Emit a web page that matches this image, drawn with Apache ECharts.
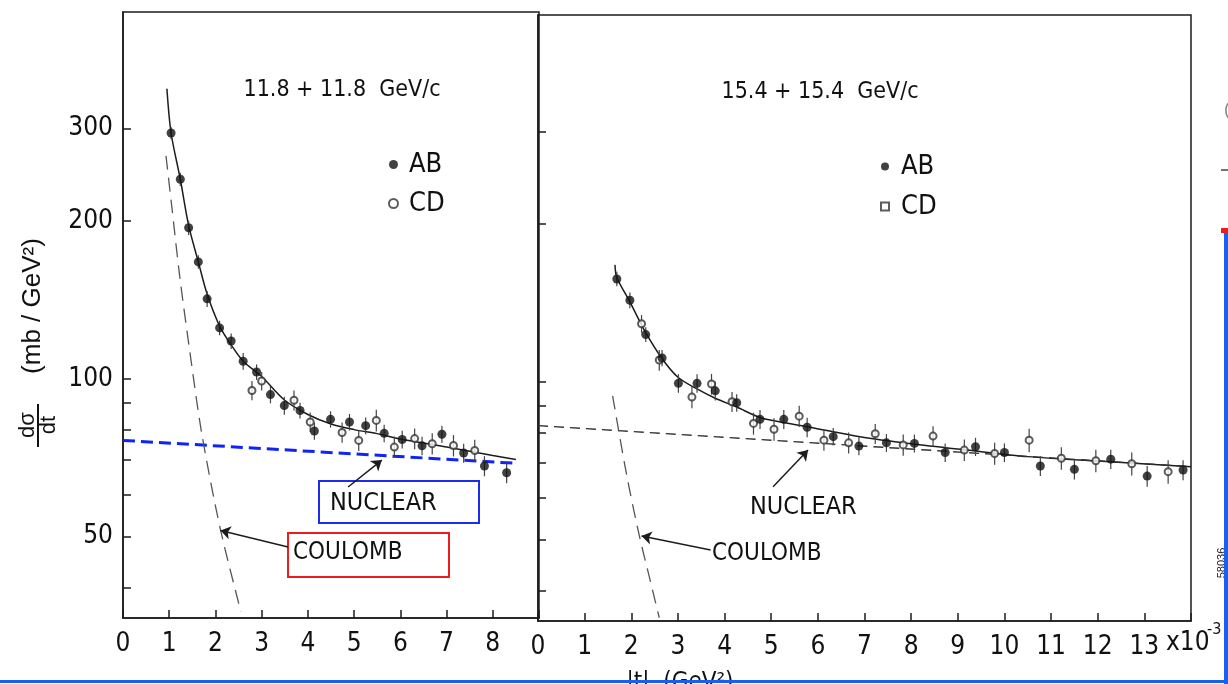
<!DOCTYPE html>
<html>
<head>
<meta charset="utf-8">
<script src="https://cdn.jsdelivr.net/npm/echarts@6.0.0/dist/echarts.min.js"></script>
<style>
html, body { margin: 0; background: #fff; }
#chart { width: 1228px; height: 684px; }
</style>
</head>
<body>
<div id="chart"></div>
<script>
// --- data (|t| in 1e-3 GeV^2, dsigma/dt in mb/GeV^2) ---
// left panel, 11.8 + 11.8 GeV/c
const tL_AB = [1.04, 1.24, 1.42, 1.63, 1.82, 2.09, 2.34, 2.60, 2.89, 3.19, 3.49, 3.83, 4.14, 4.49, 4.90, 5.25, 5.65, 6.04, 6.47, 6.90, 7.37, 7.82, 8.30];
const vL_AB = [294, 240, 194, 167, 142, 125, 118, 108, 103, 93.3, 88.9, 87.0, 79.5, 83.7, 82.7, 81.4, 78.7, 76.6, 74.5, 78.4, 72.2, 68.2, 66.2];
const eL_AB = [8, 7, 6, 5, 5, 4, 4, 4, 3.5, 3.5, 3.5, 3, 3, 3, 3, 3, 3, 3, 3, 3, 3, 3, 3];
const tL_CD = [2.79, 3.00, 3.70, 4.05, 4.74, 5.10, 5.48, 5.87, 6.31, 6.69, 7.15, 7.61];
const vL_CD = [95, 99, 91, 82.7, 79, 76.3, 83.3, 74.1, 76.9, 75.2, 74.6, 73.0];
const eL_CD = [4, 4, 4, 3.5, 3.5, 3.5, 4, 3.5, 3.5, 3.5, 3.5, 3.5];
const fitL_t = [0.95, 1.04, 1.24, 1.42, 1.63, 1.82, 2.09, 2.34, 2.60, 3.00, 3.50, 4.00, 4.50, 5.00, 5.50, 6.00, 7.00, 8.00, 8.50];
const fitL_v = [357, 294, 240, 196, 167, 145, 126, 116, 108, 101, 91, 85.5, 82, 80, 78.6, 76.8, 74.1, 71.4, 70.2];
const nucL_t = [0, 8.5];
const nucL_v = [76.3, 69.0];
const coulL_t = [0.93, 1.05, 1.23, 1.45, 1.70, 2.10, 2.55];
const coulL_v = [266, 215, 156, 112, 79, 52, 36];

// right panel, 15.4 + 15.4 GeV/c
const tR_AB = [1.69, 1.97, 2.31, 2.66, 3.01, 3.41, 3.80, 4.26, 4.76, 5.27, 5.77, 6.33, 6.88, 7.47, 8.07, 8.73, 9.38, 10.00, 10.77, 11.50, 12.28, 13.06, 13.83];
const vR_AB = [157, 143, 123, 111, 99.3, 99.3, 96.1, 91.2, 84.8, 84.8, 81.9, 78.6, 75.4, 76.5, 76.3, 73.3, 75.2, 73.3, 69.1, 68.1, 71.2, 66.1, 67.9];
const eR_AB = [5, 5, 4, 4, 4, 4, 4, 3.5, 3.5, 3.5, 3.5, 3, 3, 3, 3, 3, 3, 3, 3, 3, 3, 3, 3];
const tR_CD = [2.22, 2.60, 3.30, 3.72, 4.16, 4.62, 5.06, 5.60, 6.13, 6.66, 7.23, 7.83, 8.47, 9.14, 9.79, 10.53, 11.22, 11.96, 12.73, 13.51];
const vR_CD = [129, 110, 93.5, 99, 91.6, 83.3, 81.2, 86, 77.4, 76.5, 79.6, 75.8, 78.8, 74.1, 73.0, 77.4, 71.5, 70.7, 69.8, 67.4];
const eR_CD = [5, 5, 4.5, 4.5, 4, 4, 4, 4, 3.5, 3.5, 3.5, 3.5, 3.5, 3.5, 3.5, 4, 3.5, 3.5, 3.5, 3.5];
const fitR_t = [1.65, 1.69, 1.97, 2.31, 2.65, 3.00, 3.40, 3.80, 4.26, 4.76, 5.30, 5.80, 6.90, 8.00, 9.20, 10.50, 12.00, 14.00];
const fitR_v = [167, 158, 142, 124, 111, 102, 97, 93, 89.5, 85.5, 83.5, 82, 78.6, 76.2, 74.1, 72, 70.6, 68.9];
const nucR_t = [0, 14];
const nucR_v = [82.5, 68.9];
const coulR_t = [1.60, 1.90, 2.17, 2.40, 2.60];
const coulR_v = [94, 66.5, 51, 42, 35.5];

// axis ticks
const yTickVals = [40, 50, 60, 70, 80, 90, 100, 200, 300];
const yLabelVals = [50, 100, 200, 300];
const yMin = 35, yMax = 500;

const lg = Math.log10;
const NARROW = "'Liberation Sans Narrow', 'DejaVu Sans Condensed', 'Liberation Sans', sans-serif";
const INK = '#1c1c1c';

function pts(ts, vs) {
  return ts.map((t, i) => [t, lg(vs[i])]);
}

// vertical error bars
function errSeries(ts, vs, es, idx) {
  return {
    type: 'custom', xAxisIndex: idx, yAxisIndex: idx, silent: true, z: 3,
    data: ts.map((t, i) => [t, lg(vs[i] + es[i]), lg(vs[i] - es[i])]),
    renderItem: function (params, api) {
      const a = api.coord([api.value(0), api.value(1)]);
      const b = api.coord([api.value(0), api.value(2)]);
      return {
        type: 'line',
        shape: { x1: a[0], y1: a[1], x2: b[0], y2: b[1] },
        style: { stroke: '#444', lineWidth: 1.2 }
      };
    }
  };
}

function xAx(idx, max) {
  return {
    type: 'value', gridIndex: idx, min: 0, max: max, interval: 1,
    axisLine: { show: true, lineStyle: { color: INK, width: 1.6 } },
    axisTick: { show: true, inside: true, length: 8, lineStyle: { color: INK, width: 1.5 } },
    axisLabel: {
      fontSize: 26, fontFamily: NARROW, color: '#111', margin: 13,
      formatter: v => (v === max ? '' : String(v))
    },
    splitLine: { show: false }
  };
}

function yAx(idx, showLabel) {
  return {
    type: 'value', gridIndex: idx, min: lg(yMin), max: lg(yMax),
    axisLine: { show: true, lineStyle: { color: INK, width: 1.6 } },
    axisTick: { show: true, inside: true, length: 8, customValues: yTickVals.map(lg), lineStyle: { color: INK, width: 1.5 } },
    axisLabel: {
      show: showLabel, customValues: yLabelVals.map(lg),
      formatter: v => String(Math.round(Math.pow(10, v))),
      fontSize: 26, fontFamily: NARROW, color: '#111', margin: 10
    },
    splitLine: { show: false }
  };
}

function dataSeries(idx, tAB, vAB, tCD, vCD) {
  return [
    {
      type: 'scatter', name: 'CD', xAxisIndex: idx, yAxisIndex: idx, z: 4,
      data: pts(tCD, vCD), symbol: 'emptyCircle', symbolSize: 7,
      itemStyle: { color: '#333', borderWidth: 1.3 }
    },
    {
      type: 'scatter', name: 'AB', xAxisIndex: idx, yAxisIndex: idx, z: 5,
      data: pts(tAB, vAB), symbol: 'circle', symbolSize: 9,
      itemStyle: { color: '#111' }
    }
  ];
}

function arrowLine(pairs) {
  return {
    silent: true, symbol: ['none', 'arrow'], symbolSize: 10,
    lineStyle: { color: INK, type: 'solid', width: 1.5 },
    label: { show: false }, emphasis: { disabled: true },
    data: pairs.map(p => [{ coord: [p[0], lg(p[1])] }, { coord: [p[2], lg(p[3])] }])
  };
}

const chart = echarts.init(document.getElementById('chart'));

const option = {
  animation: false,
  backgroundColor: '#fff',
  grid: [
    { left: 123, right: 689, top: 12, bottom: 66, show: true, borderColor: INK, borderWidth: 1.5 },
    { left: 538, right: 37, top: 15, bottom: 63, show: true, borderColor: INK, borderWidth: 1.5 }
  ],
  xAxis: [xAx(0, 9), xAx(1, 14)],
  yAxis: [yAx(0, true), yAx(1, false)],
  legend: [
    {
      left: 383, top: 146, orient: 'vertical', itemWidth: 9, itemHeight: 9, itemGap: 12,
      selectedMode: false,
      data: [{ name: 'AB', icon: 'circle' }, { name: 'CD', icon: 'emptyCircle' }],
      textStyle: { fontSize: 27, fontFamily: NARROW, color: '#111', padding: [0, 0, 0, 6] }
    },
    {
      left: 875, top: 148, orient: 'vertical', itemWidth: 8, itemHeight: 8, itemGap: 13,
      selectedMode: false,
      data: [{ name: 'AB', icon: 'circle' }, { name: 'CD', icon: 'emptyRect' }],
      textStyle: { fontSize: 27, fontFamily: NARROW, color: '#111', padding: [0, 0, 0, 7] }
    }
  ],
  series: [
    // left panel
    {
      type: 'line', name: 'fitL', xAxisIndex: 0, yAxisIndex: 0, data: pts(fitL_t, fitL_v),
      smooth: 0.3, symbol: 'none', lineStyle: { color: INK, width: 1.5 }, z: 2
    },
    {
      type: 'line', name: 'nucL', xAxisIndex: 0, yAxisIndex: 0, data: pts(nucL_t, nucL_v),
      symbol: 'none', lineStyle: { color: '#0f24f5', width: 3, type: [12, 6] }, z: 2,
      markLine: arrowLine([[4.87, 62.2, 5.6, 70.0], [3.57, 47.8, 2.11, 51.4]])
    },
    {
      type: 'line', name: 'coulL', xAxisIndex: 0, yAxisIndex: 0, data: pts(coulL_t, coulL_v),
      smooth: 0.3, symbol: 'none', lineStyle: { color: '#555', width: 1.3, type: [14, 8] }, z: 2
    },
    errSeries(tL_CD, vL_CD, eL_CD, 0),
    errSeries(tL_AB, vL_AB, eL_AB, 0),
    ...dataSeries(0, tL_AB, vL_AB, tL_CD, vL_CD),
    // right panel
    {
      type: 'line', name: 'fitR', xAxisIndex: 1, yAxisIndex: 1, data: pts(fitR_t, fitR_v),
      smooth: 0.3, symbol: 'none', lineStyle: { color: INK, width: 1.5 }, z: 2
    },
    {
      type: 'line', name: 'nucR', xAxisIndex: 1, yAxisIndex: 1, data: pts(nucR_t, nucR_v),
      symbol: 'none', lineStyle: { color: '#333', width: 1.4, type: [10, 6] }, z: 2,
      markLine: arrowLine([[5.04, 63.1, 5.79, 74.1], [3.70, 47.8, 2.22, 50.8]])
    },
    {
      type: 'line', name: 'coulR', xAxisIndex: 1, yAxisIndex: 1, data: pts(coulR_t, coulR_v),
      smooth: 0.3, symbol: 'none', lineStyle: { color: '#555', width: 1.3, type: [14, 8] }, z: 2
    },
    errSeries(tR_CD, vR_CD, eR_CD, 1),
    errSeries(tR_AB, vR_AB, eR_AB, 1),
    ...dataSeries(1, tR_AB, vR_AB, tR_CD, vR_CD)
  ],
  graphic: [
    // panel titles
    { type: 'text', x: 342, y: 90, style: { text: '11.8 + 11.8  GeV/c', font: '23px ' + NARROW, fill: '#111', align: 'center', verticalAlign: 'middle' } },
    { type: 'text', x: 820, y: 92, style: { text: '15.4 + 15.4  GeV/c', font: '23px ' + NARROW, fill: '#111', align: 'center', verticalAlign: 'middle' } },
    // annotations, left panel
    { type: 'rect', shape: { x: 319, y: 481, width: 160, height: 42 }, style: { fill: 'none', stroke: '#1a2cf0', lineWidth: 2 } },
    { type: 'text', x: 330, y: 503, style: { text: 'NUCLEAR', font: '25px ' + NARROW, fill: '#111', align: 'left', verticalAlign: 'middle' } },
    { type: 'rect', shape: { x: 288, y: 533, width: 161, height: 44 }, style: { fill: 'none', stroke: '#ee1c1c', lineWidth: 2 } },
    { type: 'text', x: 293, y: 553, style: { text: 'COULOMB', font: '24px ' + NARROW, fill: '#111', align: 'left', verticalAlign: 'middle' } },
    // annotations, right panel
    { type: 'text', x: 750, y: 507, style: { text: 'NUCLEAR', font: '25px ' + NARROW, fill: '#111', align: 'left', verticalAlign: 'middle' } },
    { type: 'text', x: 712, y: 554, style: { text: 'COULOMB', font: '24px ' + NARROW, fill: '#111', align: 'left', verticalAlign: 'middle' } },
    // x-axis exponent and name
    { type: 'text', x: 1166, y: 643, style: { text: 'x10', font: '26px ' + NARROW, fill: '#111', align: 'left', verticalAlign: 'middle' } },
    { type: 'text', x: 1207, y: 630, style: { text: '-3', font: '16px ' + NARROW, fill: '#111', align: 'left', verticalAlign: 'middle' } },
    { type: 'text', x: 680, y: 671, style: { text: '|t|  (GeV²)', font: '24px ' + NARROW, fill: '#111', align: 'center', verticalAlign: 'top' } },
    // y-axis name, rotated
    { type: 'text', x: 28, y: 425, rotation: Math.PI / 2, style: { text: 'dσ', font: '22px Liberation Sans, sans-serif', fill: '#111', align: 'center', verticalAlign: 'middle' } },
    { type: 'line', shape: { x1: 38, y1: 404, x2: 38, y2: 447 }, style: { stroke: '#111', lineWidth: 2 } },
    { type: 'text', x: 49, y: 425, rotation: Math.PI / 2, style: { text: 'dt', font: '22px Liberation Sans, sans-serif', fill: '#111', align: 'center', verticalAlign: 'middle' } },
    { type: 'text', x: 33, y: 306, rotation: Math.PI / 2, style: { text: '(mb / GeV²)', font: '26px Liberation Sans, sans-serif', fill: '#111', align: 'center', verticalAlign: 'middle' } },
    // scan margin marks
    { type: 'text', x: 1222, y: 563, rotation: Math.PI / 2, style: { text: '58036', font: '11px Liberation Sans, sans-serif', fill: '#222', align: 'center', verticalAlign: 'middle' } },
    { type: 'text', x: 1224, y: 110, style: { text: '(', font: '18px Liberation Sans, sans-serif', fill: '#888', align: 'left', verticalAlign: 'middle' } },
    { type: 'line', shape: { x1: 1221, y1: 170, x2: 1228, y2: 170 }, style: { stroke: '#444', lineWidth: 1.5 } },
    { type: 'rect', shape: { x: 1224, y: 230, width: 4, height: 454 }, style: { fill: '#1a5ff0' } },
    { type: 'rect', shape: { x: 1221, y: 228, width: 7, height: 5 }, style: { fill: '#ee1c1c' } },
    { type: 'rect', shape: { x: 0, y: 680, width: 1228, height: 3 }, style: { fill: '#1a5ff0' } }
  ]
};

chart.setOption(option);
</script>
</body>
</html>
